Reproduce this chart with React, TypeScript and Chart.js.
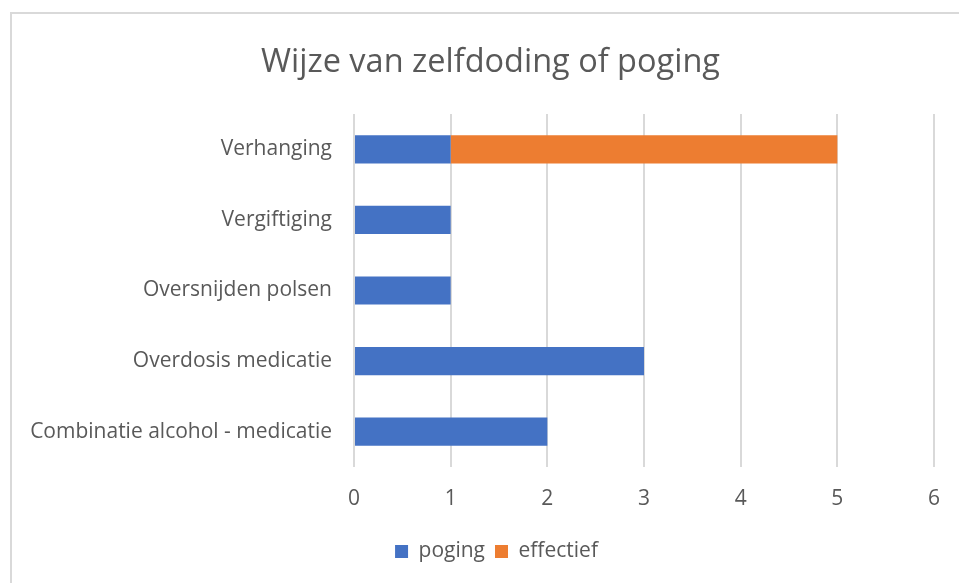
import React, { useEffect, useRef } from "react";
import { Chart, registerables } from "chart.js";

Chart.register(...registerables);

const categories = [
  "Verhanging",
  "Vergiftiging",
  "Oversnijden polsen",
  "Overdosis medicatie",
  "Combinatie alcohol - medicatie",
];
const poging = [1, 1, 1, 3, 2];
const effectief = [4, 0, 0, 0, 0];
const titleText = "Wijze van zelfdoding of poging";

const FONT = "'Open Sans', 'Noto Sans', sans-serif";
const GREY = "#595959";

const borderPlugin = {
  id: "outerBorder",
  beforeDraw(chart: any) {
    const ctx = chart.ctx;
    ctx.save();
    ctx.fillStyle = "#ffffff";
    ctx.fillRect(0, 0, chart.width, chart.height);
    ctx.strokeStyle = "#d9d9d9";
    ctx.lineWidth = 2;
    ctx.strokeRect(11, 13, chart.width + 20, chart.height + 20);
    ctx.restore();
  },
  afterLayout(chart: any) {
    const t = chart.titleBlock;
    if (t) {
      t.left += 23;
      t.right += 23;
    }
    const l = chart.legend;
    if (l) {
      l.left += 29;
      l.right += 29;
    }
  },
};

export default function App() {
  const ref = useRef<HTMLCanvasElement>(null);
  useEffect(() => {
    if (!ref.current) return;
    const chart = new Chart(ref.current, {
      type: "bar",
      data: {
        labels: categories,
        datasets: [
          {
            label: "poging",
            data: poging,
            backgroundColor: "#4472C4",
            categoryPercentage: 1,
            barPercentage: 0.4,
          },
          {
            label: "effectief",
            data: effectief,
            backgroundColor: "#ED7D31",
            categoryPercentage: 1,
            barPercentage: 0.4,
          },
        ],
      },
      options: {
        indexAxis: "y",
        animation: false,
        responsive: false,
        maintainAspectRatio: false,
        layout: { padding: { left: 0, right: 24, top: 0, bottom: 11 } },
        plugins: {
          title: {
            display: true,
            text: titleText,
            color: GREY,
            font: { family: FONT, size: 32.5, weight: "normal" },
            padding: { top: 43, bottom: 32 },
          },
          legend: {
            position: "bottom",
            labels: {
              color: GREY,
              font: { family: FONT, size: 21 },
              boxWidth: 13,
              boxHeight: 13,
              padding: 10,
            },
          },
          tooltip: { enabled: false },
        },
        scales: {
          x: {
            stacked: true,
            min: 0,
            max: 6,
            ticks: {
              stepSize: 1,
              color: GREY,
              font: { family: FONT, size: 21 },
              padding: 19,
            },
            grid: { color: "#d9d9d9", lineWidth: 2, drawTicks: false },
            border: { display: false },
            afterFit(scale: any) {
              scale.height = 64;
            },
          },
          y: {
            stacked: true,
            ticks: {
              color: GREY,
              font: { family: FONT, size: 21 },
              padding: 22,
            },
            grid: { display: false, drawTicks: false },
            border: { display: false },
            afterFit(scale: any) {
              scale.width = 354;
            },
          },
        },
      },
      plugins: [borderPlugin],
    });
    return () => chart.destroy();
  }, []);
  return (
    <div style={{ position: "fixed", left: 0, top: 0, width: 959, height: 583, overflow: "hidden" }}>
      <canvas ref={ref} width={959} height={583} style={{ width: 959, height: 583, display: "block" }} />
    </div>
  );
}
